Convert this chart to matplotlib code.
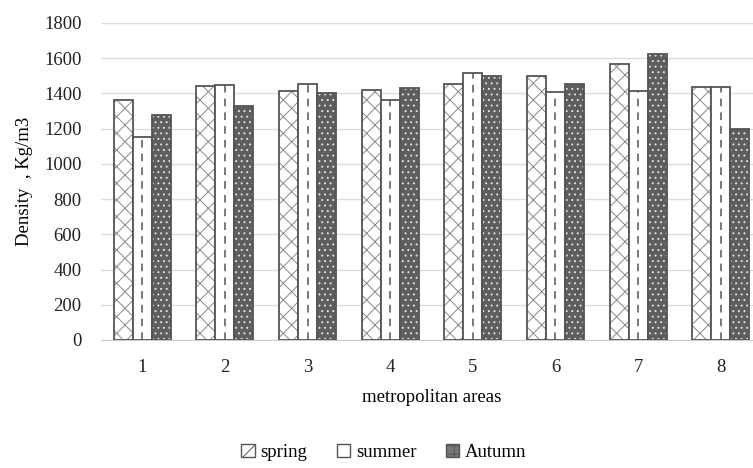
import numpy as np
import matplotlib.pyplot as plt
from matplotlib.patches import Patch

plt.rcParams['font.family'] = ['Liberation Serif', 'DejaVu Serif']
plt.rcParams['hatch.linewidth'] = 0.7

# Data
areas = ['1', '2', '3', '4', '5', '6', '7', '8']
spring = [1360, 1440, 1415, 1420, 1455, 1500, 1565, 1435]
summer = [1150, 1450, 1455, 1365, 1515, 1410, 1415, 1435]
autumn = [1275, 1330, 1400, 1430, 1500, 1455, 1625, 1200]
y_ticks = [0, 200, 400, 600, 800, 1000, 1200, 1400, 1600, 1800]

fig = plt.figure(figsize=(7.53, 4.68), dpi=100)
ax = fig.add_axes([101 / 753, 128 / 468, 661 / 753, 317 / 468])

x = np.arange(len(areas))
w = 0.23
edge = '#555555'
fs = 13.5

# spring: light diagonal cross hatch
ax.bar(x - w, spring, w, facecolor='white', edgecolor='#888888', hatch='xx', linewidth=0, zorder=2)
ax.bar(x - w, spring, w, facecolor='none', edgecolor=edge, linewidth=1.3, zorder=3)
# summer: white with one dashed vertical line
ax.bar(x, summer, w, facecolor='white', edgecolor=edge, linewidth=1.3, zorder=3)
ax.vlines(x, 0, summer, colors='#555555', linestyles=(0, (5, 4)), linewidth=1.1, zorder=4)
# autumn: dark grey with light speckles
ax.bar(x + w, autumn, w, facecolor='#5e5e5e', edgecolor='#e0e0e0', hatch='...', linewidth=0, zorder=2)
ax.bar(x + w, autumn, w, facecolor='none', edgecolor=edge, linewidth=1.3, zorder=3)

ax.set_xlim(-0.5, len(areas) - 0.5)
ax.set_ylim(0, 1800)
ax.set_yticks(y_ticks)
ax.set_xticks(x)
ax.set_xticklabels(areas)
ax.tick_params(axis='both', length=0, labelsize=fs, colors='#222222')
ax.tick_params(axis='x', pad=14)
ax.tick_params(axis='y', pad=14)
ax.yaxis.grid(True, color='#dddddd', linewidth=1)
ax.set_axisbelow(True)
for s in ['top', 'right', 'left']:
    ax.spines[s].set_visible(False)
ax.spines['bottom'].set_color('#cccccc')

ax.set_xlabel('metropolitan areas', fontsize=fs, labelpad=9)
ax.set_ylabel('Density  , Kg/m3', fontsize=fs, labelpad=8)

handles = [
    Patch(facecolor='white', edgecolor=edge, hatch='//', label='spring'),
    Patch(facecolor='white', edgecolor=edge, label='summer'),
    Patch(facecolor='#777777', edgecolor=edge, hatch='++', label='Autumn'),
]
fig.legend(handles=handles, loc='lower center', bbox_to_anchor=(0.51, -0.022), ncol=3,
           frameon=False, fontsize=fs, handlelength=0.7, handleheight=0.7,
           handletextpad=0.3, columnspacing=1.6)

fig.savefig('out.png', dpi=100)
